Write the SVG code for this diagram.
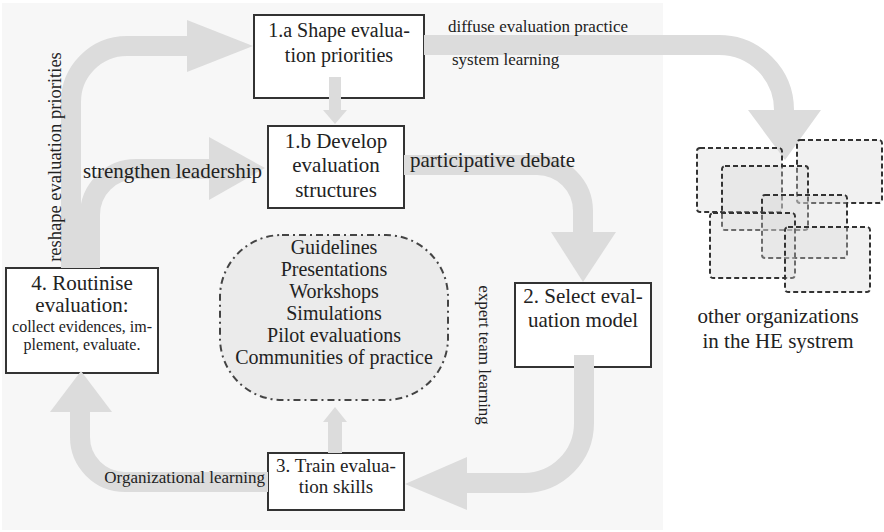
<svg xmlns="http://www.w3.org/2000/svg" width="884" height="532" viewBox="0 0 884 532" font-family="'Liberation Serif', 'DejaVu Serif', 'Times New Roman', serif">
<style>
  text { font-family: 'Liberation Serif', 'DejaVu Serif', 'Times New Roman', serif; fill: #222; }
  .box { fill: #fff; stroke: #333; stroke-width: 2; }
  .shaft { fill: none; stroke: #dcdcdc; stroke-width: 20; }
  .head { fill: #dcdcdc; }
  .org { fill: #d6d6d6; fill-opacity: 0.35; stroke: #333; stroke-width: 2; stroke-dasharray: 5 3; }
  .c { text-anchor: middle; }
</style>
<rect x="0" y="0" width="884" height="532" fill="#fff"/>
<rect x="2" y="3" width="661" height="527" fill="#f7f7f7"/>

<g id="node-1a">
  <rect class="box" x="254" y="15" width="170" height="83"/>
  <text class="c" x="339" y="37" font-size="20">1.a Shape evalua-</text>
  <text class="c" x="339" y="62" font-size="20">tion priorities</text>
</g>
<g id="node-1b">
  <rect class="box" x="268" y="126" width="136" height="82"/>
  <text class="c" x="336" y="148" font-size="21">1.b Develop</text>
  <text class="c" x="336" y="172" font-size="21">evaluation</text>
  <text class="c" x="336" y="197" font-size="21">structures</text>
</g>
<g id="node-2">
  <rect class="box" x="515" y="283" width="136" height="84"/>
  <text class="c" x="583" y="303" font-size="21">2. Select eval-</text>
  <text class="c" x="583" y="327" font-size="21">uation model</text>
</g>
<g id="node-3">
  <rect class="box" x="268" y="453" width="136" height="57"/>
  <text class="c" x="336" y="472" font-size="19">3. Train evalua-</text>
  <text class="c" x="336" y="493" font-size="19">tion skills</text>
</g>
<g id="node-4">
  <rect class="box" x="6" y="268" width="152" height="105"/>
  <text class="c" x="82" y="290" font-size="21">4. Routinise</text>
  <text class="c" x="82" y="312" font-size="21">evaluation:</text>
  <text class="c" x="82" y="332" font-size="16">collect evidences, im-</text>
  <text class="c" x="82" y="350" font-size="16">plement, evaluate.</text>
</g>
<g id="node-tools">
  <rect x="220" y="235" width="228" height="165" rx="62" ry="62" fill="#ebebeb" stroke="#444" stroke-width="2" stroke-dasharray="7 4 2 4"/>
  <text class="c" x="334" y="254" font-size="20">Guidelines</text>
  <text class="c" x="334" y="276" font-size="20">Presentations</text>
  <text class="c" x="334" y="298" font-size="20">Workshops</text>
  <text class="c" x="334" y="320" font-size="20">Simulations</text>
  <text class="c" x="334" y="342" font-size="20">Pilot evaluations</text>
  <text class="c" x="334" y="364" font-size="20">Communities of practice</text>
</g>

<g id="connectors">
  <path class="shaft" d="M71,268 V103 A56,56 0 0 1 127,46 H190"/>
  <polygon class="head" points="187,20 253,46 187,72"/>
  <path class="shaft" d="M90,268 V215 A46,46 0 0 1 136,169 H212"/>
  <polygon class="head" points="209,137 265,168 209,200"/>
  <rect class="head" x="329" y="77" width="12" height="34"/>
  <polygon class="head" points="323,110 347,110 335,124"/>
  <path class="shaft" d="M424,45 H719 A65,65 0 0 1 784,110 V114"/>
  <polygon class="head" points="748,110 821,110 785,160"/>
  <path class="shaft" d="M404,165 H537 A46,46 0 0 1 583,211 V236"/>
  <polygon class="head" points="551,232 616,232 583,282"/>
  <path class="shaft" d="M584,355 V423 A60,60 0 0 1 524,483 H465"/>
  <polygon class="head" points="467,457 467,510 405,484"/>
  <path class="shaft" d="M268,482 H125 A45,45 0 0 1 80,437 V410"/>
  <polygon class="head" points="50,412 112,412 81,371"/>
  <rect class="head" x="328" y="420" width="14" height="33"/>
  <polygon class="head" points="323,422 347,422 335,407"/>
</g>

<g id="labels">
  <text x="61" y="157" font-size="18.5" class="c" transform="rotate(-90 61 157)">reshape evaluation priorities</text>
  <text x="262" y="178" font-size="21" text-anchor="end">strengthen leadership</text>
  <text x="410" y="167" font-size="21">participative debate</text>
  <text x="448" y="32" font-size="17">diffuse evaluation practice</text>
  <text x="452" y="65" font-size="17">system learning</text>
  <text x="265" y="483" font-size="17" text-anchor="end">Organizational learning</text>
  <text x="479" y="355" font-size="17" class="c" transform="rotate(90 479 355)">expert team learning</text>
</g>

<g id="node-other-orgs">
  <rect class="org" x="697" y="148" width="85" height="64" rx="3"/>
  <rect class="org" x="797" y="140" width="85" height="63" rx="3"/>
  <rect class="org" x="722" y="166" width="86" height="64" rx="3"/>
  <rect class="org" x="762" y="195" width="85" height="63" rx="3"/>
  <rect class="org" x="710" y="213" width="85" height="65" rx="3"/>
  <rect class="org" x="785" y="227" width="85" height="65" rx="3"/>
  <text class="c" x="778" y="323" font-size="21">other organizations</text>
  <text class="c" x="778" y="348" font-size="21">in the HE systrem</text>
</g>
</svg>
